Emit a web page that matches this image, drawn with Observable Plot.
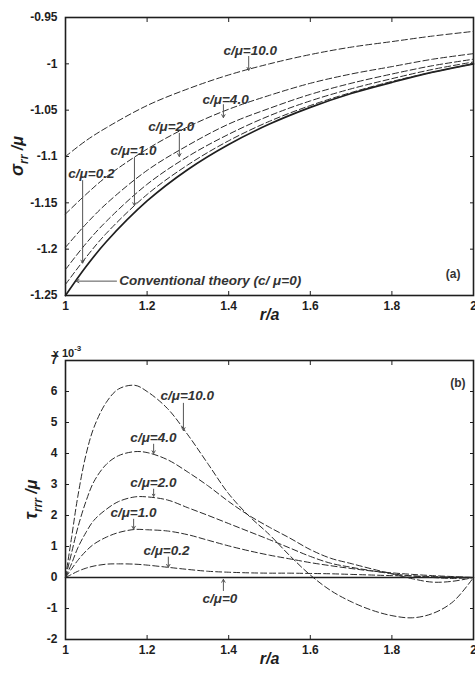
<!DOCTYPE html>
<html><head><meta charset="utf-8">
<script src="https://cdn.jsdelivr.net/npm/d3@7"></script>
<script src="https://cdn.jsdelivr.net/npm/@observablehq/plot@0.6"></script>
<style>
html,body{margin:0;padding:0;background:#fff;}
#chart{width:475px;height:673px;overflow:hidden;}
#chart svg{display:block;}
</style></head><body><div id="chart"></div>
<script>
// ---------- Panel (a): sigma_rr / mu ----------
const rA = [1, 1.05, 1.1, 1.2, 1.3, 1.4, 1.5, 1.6, 1.7, 1.8, 1.9, 2];
const sigmaConv = [-1.250, -1.219, -1.192, -1.148, -1.114, -1.087, -1.065, -1.047, -1.032, -1.020, -1.009, -1.000];
const sigma02  = [-1.238, -1.209, -1.183, -1.141, -1.109, -1.083, -1.062, -1.045, -1.031, -1.019, -1.009, -1.000];
const sigma1   = [-1.222, -1.194, -1.170, -1.130, -1.100, -1.076, -1.056, -1.040, -1.027, -1.016, -1.006, -0.998];
const sigma2   = [-1.198, -1.173, -1.151, -1.115, -1.088, -1.065, -1.048, -1.033, -1.021, -1.011, -1.002, -0.995];
const sigma4   = [-1.162, -1.141, -1.122, -1.092, -1.068, -1.049, -1.034, -1.021, -1.011, -1.003, -0.995, -0.989];
const sigma10  = [-1.100, -1.083, -1.069, -1.045, -1.027, -1.012, -1.000, -0.990, -0.982, -0.976, -0.970, -0.965];
const xTicks = [1, 1.2, 1.4, 1.6, 1.8, 2];
const yTicksA = [-1.25, -1.2, -1.15, -1.1, -1.05, -1, -0.95];

// ---------- Panel (b): tau_rrr / mu (x 10^-3) ----------
const rB = [1, 1.015, 1.03, 1.05, 1.07, 1.1, 1.13, 1.17, 1.2, 1.25, 1.3, 1.35, 1.4, 1.45, 1.5, 1.55, 1.6, 1.65, 1.7, 1.75, 1.8, 1.85, 1.9, 1.95, 2];
const tau10 = [0, 1.3, 2.6, 3.95, 4.85, 5.65, 6.08, 6.2, 6.0, 5.45, 4.6, 3.65, 2.7, 1.98, 1.38, 0.7, 0.08, -0.42, -0.78, -1.05, -1.23, -1.3, -1.16, -0.78, 0];
const tau4  = [0, 0.8, 1.6, 2.45, 3.1, 3.65, 3.93, 4.06, 4.03, 3.8, 3.4, 2.95, 2.45, 2.0, 1.62, 1.27, 0.9, 0.62, 0.45, 0.28, 0.12, -0.04, -0.15, -0.12, 0];
const tau2  = [0, 0.45, 0.95, 1.45, 1.85, 2.2, 2.45, 2.6, 2.6, 2.5, 2.25, 2.0, 1.74, 1.48, 1.22, 0.95, 0.68, 0.46, 0.33, 0.22, 0.12, 0.05, 0.0, -0.03, 0];
const tau1  = [0, 0.28, 0.55, 0.85, 1.08, 1.3, 1.45, 1.55, 1.54, 1.5, 1.38, 1.2, 1.02, 0.86, 0.72, 0.6, 0.48, 0.38, 0.29, 0.21, 0.15, 0.1, 0.06, 0.03, 0];
const tau02 = [0, 0.1, 0.2, 0.3, 0.37, 0.43, 0.44, 0.43, 0.4, 0.33, 0.26, 0.2, 0.17, 0.15, 0.14, 0.14, 0.13, 0.12, 0.1, 0.08, 0.06, 0.05, 0.03, 0.015, 0];
const tau0  = [0, 0, 0, 0, 0, 0, 0, 0, 0, 0, 0, 0, 0, 0, 0, 0, 0, 0, 0, 0, 0, 0, 0, 0, 0];
const yTicksB = [-2, -1, 0, 1, 2, 3, 4, 5, 6, 7];

// labels
const seriesLabels = ["c/μ=10.0", "c/μ=4.0", "c/μ=2.0", "c/μ=1.0", "c/μ=0.2"];
const convLabel = "Conventional theory (c/ μ=0)";
const zeroLabel = "c/μ=0";

// annotation placement (data coordinates): text anchor point and arrow (r, from, to)
const annoA = [
  {label: seriesLabels[0], tx: 1.387, ty: -0.9856, ar: 1.449, a1: -0.992, a2: -1.007},
  {label: seriesLabels[1], tx: 1.336, ty: -1.0385, ar: 1.387, a1: -1.044, a2: -1.058},
  {label: seriesLabels[2], tx: 1.203, ty: -1.0676, ar: 1.279, a1: -1.075, a2: -1.100},
  {label: seriesLabels[3], tx: 1.110, ty: -1.0935, ar: 1.169, a1: -1.101, a2: -1.153},
  {label: seriesLabels[4], tx: 1.007, ty: -1.119,  ar: 1.042, a1: -1.126, a2: -1.215}
];
const convAnno = {label: convLabel, tx: 1.132, ty: -1.2335, ar1: 1.125, ar2: 1.026, ay: -1.2345};
const annoB = [
  {label: seriesLabels[0], tx: 1.233, ty: 5.87, ar: 1.289, a1: 5.62, a2: 4.74},
  {label: seriesLabels[1], tx: 1.159, ty: 4.52, ar: 1.216, a1: 4.30, a2: 4.00},
  {label: seriesLabels[2], tx: 1.159, ty: 3.06, ar: 1.216, a1: 2.85, a2: 2.62},
  {label: seriesLabels[3], tx: 1.110, ty: 2.10, ar: 1.167, a1: 1.88, a2: 1.56},
  {label: seriesLabels[4], tx: 1.191, ty: 0.87, ar: 1.252, a1: 0.66, a2: 0.33},
  {label: zeroLabel,       tx: 1.336, ty: -0.68, ar: 1.387, a1: -0.42, a2: -0.06}
];

// ---------- build tables ----------
const dashA = [sigma10, sigma4, sigma2, sigma1, sigma02];
const rowsA = dashA.flatMap((s, k) => rA.map((r, i) => ({r, v: s[i], key: seriesLabels[k]})));
const rowsConv = rA.map((r, i) => ({r, v: sigmaConv[i]}));
const dashB = [tau10, tau4, tau2, tau1, tau02];
const rowsB = dashB.flatMap((s, k) => rB.map((r, i) => ({r, v: s[i], key: seriesLabels[k]})));
const rowsZero = rB.map((r, i) => ({r, v: tau0[i]}));

const fmt = d => String(Math.round(d * 100) / 100);
const blank = () => "";
const FONT = "'Liberation Sans', Arial, Helvetica, sans-serif";
const INK = "#1e1e1e";
const baseStyle = {fontFamily: FONT, fontSize: "12px", fontWeight: "bold", color: INK, background: "white", overflow: "visible"};

function axes(yTicks) {
  return [
    Plot.frame({stroke: INK, strokeWidth: 1.6}),
    Plot.axisX(xTicks, {anchor: "bottom", tickSize: -4, tickPadding: 10, tickFormat: fmt, label: null}),
    Plot.axisX(xTicks, {anchor: "top", tickSize: -4, tickFormat: blank, label: null}),
    Plot.axisY(yTicks, {anchor: "left", tickSize: -4, tickPadding: 12, tickFormat: fmt, label: null}),
    Plot.axisY(yTicks, {anchor: "right", tickSize: -4, tickFormat: blank, label: null})
  ];
}

const labelText = {fontFamily: FONT, fontStyle: "italic", fontWeight: "bold", fontSize: 13.5, fill: "#333", textAnchor: "start"};

const chartA = Plot.plot({
  width: 475, height: 330,
  marginTop: 17, marginBottom: 35, marginLeft: 65, marginRight: 2,
  style: baseStyle,
  x: {domain: [1, 2]},
  y: {domain: [-1.25, -0.95]},
  marks: [
    ...axes(yTicksA),
    Plot.line(rowsConv, {x: "r", y: "v", stroke: INK, strokeWidth: 1.7, curve: "catmull-rom"}),
    Plot.line(rowsA, {x: "r", y: "v", z: "key", stroke: "#2a2a2a", strokeWidth: 1, strokeDasharray: "6,3", curve: "catmull-rom"}),
    Plot.arrow(annoA, {x1: "ar", y1: "a1", x2: "ar", y2: "a2", stroke: "#555", strokeWidth: 1, headLength: 5}),
    Plot.text(annoA, {x: "tx", y: "ty", text: "label", ...labelText}),
    Plot.arrow([convAnno], {x1: "ar1", y1: "ay", x2: "ar2", y2: "ay", stroke: "#555", strokeWidth: 1, headLength: 5}),
    Plot.text([convAnno], {x: "tx", y: "ty", text: "label", ...labelText}),
    Plot.text(["(a)"], {frameAnchor: "bottom-right", dx: -13, dy: -18, text: d => d, fontFamily: FONT, fontWeight: "bold", fontSize: 12, fill: "#333", textAnchor: "end"}),
    Plot.text(["r/a"], {frameAnchor: "bottom", dy: 24, text: d => d, fontFamily: FONT, fontStyle: "italic", fontWeight: "bold", fontSize: 16, fill: INK})
  ]
});

const chartB = Plot.plot({
  width: 475, height: 343,
  marginTop: 30, marginBottom: 34, marginLeft: 65, marginRight: 2,
  style: baseStyle,
  x: {domain: [1, 2]},
  y: {domain: [-2, 7]},
  marks: [
    ...axes(yTicksB),
    Plot.line(rowsZero, {x: "r", y: "v", stroke: INK, strokeWidth: 1.5}),
    Plot.line(rowsB, {x: "r", y: "v", z: "key", stroke: "#2a2a2a", strokeWidth: 1, strokeDasharray: "6,3", curve: "catmull-rom"}),
    Plot.arrow(annoB, {x1: "ar", y1: "a1", x2: "ar", y2: "a2", stroke: "#555", strokeWidth: 1, headLength: 5}),
    Plot.text(annoB, {x: "tx", y: "ty", text: "label", ...labelText}),
    Plot.text(["(b)"], {frameAnchor: "top-right", dx: -8, dy: 18, text: d => d, fontFamily: FONT, fontWeight: "bold", fontSize: 12, fill: "#333", textAnchor: "end"}),
    Plot.text(["r/a"], {frameAnchor: "bottom", dy: 24, text: d => d, fontFamily: FONT, fontStyle: "italic", fontWeight: "bold", fontSize: 16, fill: INK})
  ]
});

const root = document.getElementById("chart");
root.appendChild(chartA);
root.appendChild(chartB);

// rotated y-axis labels with subscripts, and the x10^-3 multiplier
function yLabel(chart, main, sub, rest, xPos) {
  const ys = chart.scale("y");
  const yMid = (ys.range[0] + ys.range[1]) / 2;
  const t = d3.select(chart).append("text")
    .attr("transform", `translate(${xPos},${yMid}) rotate(-90)`)
    .attr("text-anchor", "middle")
    .attr("font-family", FONT).attr("font-weight", "bold").attr("font-style", "italic")
    .attr("fill", INK);
  t.append("tspan").attr("font-size", 18).text(main);
  t.append("tspan").attr("font-size", 12).attr("dy", 5).text(sub);
  t.append("tspan").attr("font-size", 16).attr("dy", -5).text(rest);
}
yLabel(chartA, "σ", "rr", " /μ", 23);
yLabel(chartB, "τ", "rrr", " /μ", 37);

{
  const xs = chartB.scale("x"), ys = chartB.scale("y");
  const t = d3.select(chartB).append("text")
    .attr("x", xs.apply(1) + 2).attr("y", ys.apply(7) - 3)
    .attr("font-family", FONT).attr("font-weight", "bold").attr("font-size", 11).attr("fill", INK);
  t.append("tspan").text("x 10");
  t.append("tspan").attr("font-size", 8).attr("dy", -6).text("-3");
}
</script></body></html>
